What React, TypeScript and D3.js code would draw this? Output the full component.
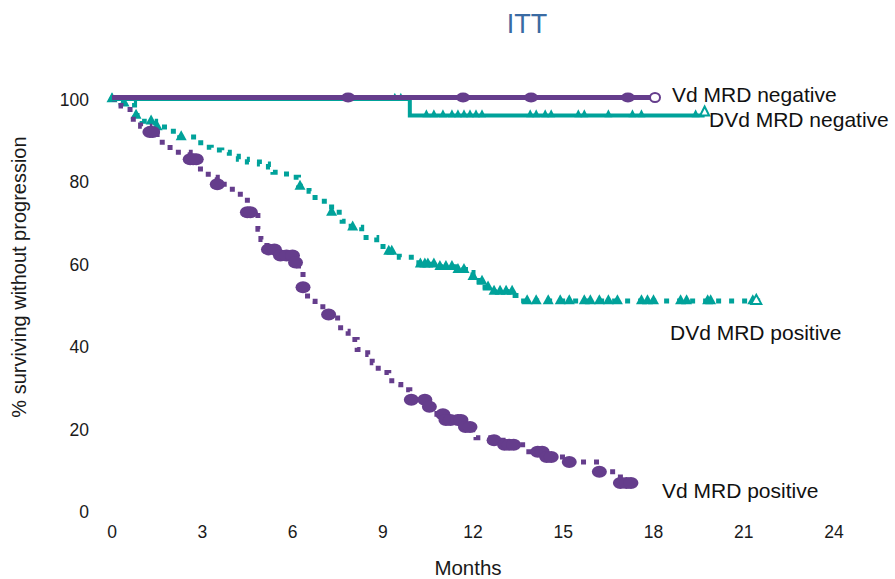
import React from "react";
import * as d3 from "d3";

const xTicks = [0, 3, 6, 9, 12, 15, 18, 21, 24];
const yTicks = [0, 20, 40, 60, 80, 100];

// Vd MRD negative
const vdNegT = [0, 18.05];
const vdNegS = [100, 100];
const vdNegCens = [7.85, 11.67, 13.93, 17.15];

// DVd MRD negative
const dvdNegT = [0, 9.9, 19.7];
const dvdNegS = [100, 96, 96];
const dvdNegCens = [0, 9.4, 9.6, 10.45, 10.7, 11.0, 11.3, 11.5, 11.7, 11.9, 12.1, 12.3, 13.9, 14.1, 14.4, 14.6, 15.5, 15.7, 16.5, 17.3, 17.6, 19.4];

// DVd MRD positive
const dvdPosT = [0, 0.3, 0.75, 1.0, 1.45, 1.85, 2.25, 2.95, 3.3, 3.65, 3.9, 4.2, 4.5, 4.9, 5.2, 5.35, 5.7, 6.0, 6.2, 6.55, 6.75, 7.3, 7.65, 7.95, 8.3, 8.8, 9.2, 9.55, 10.2, 10.8, 11.4, 11.75, 12.0, 12.2, 12.4, 12.6, 13.4, 13.55, 21.55];
const dvdPosS = [100, 99, 96, 94.6, 93.2, 92.2, 90.8, 88.3, 87.6, 87.1, 86.1, 85.4, 84.7, 84.2, 83.5, 82.2, 81.8, 81, 78.8, 77.6, 75.2, 72.5, 70.3, 68.9, 66.4, 64.2, 63, 61.6, 59.9, 59.3, 58.6, 57.9, 56.9, 55.7, 54.3, 53.3, 52.3, 51, 51];
const dvdPosCens = [0, 0.4, 0.8, 1.3, 1.5, 2.3, 6.25, 7.3, 8.0, 9.2, 9.3, 10.25, 10.4, 10.5, 10.7, 10.9, 11.1, 11.3, 11.5, 11.7, 12.0, 12.3, 12.5, 12.7, 12.9, 13.1, 13.3, 13.8, 14.1, 14.5, 14.9, 15.2, 15.7, 15.9, 16.2, 16.5, 16.8, 17.6, 17.8, 18.0, 18.9, 19.1, 19.8, 19.9, 21.3];

// Vd MRD positive
const vdPosT = [0, 0.3, 0.6, 0.95, 1.26, 1.5, 1.93, 2.6, 2.83, 3.2, 3.5, 4.0, 4.5, 4.85, 4.95, 5.15, 5.6, 6.1, 6.2, 6.35, 6.5, 6.75, 7.2, 7.5, 7.6, 7.85, 8.15, 8.5, 8.65, 8.85, 9.2, 9.3, 9.6, 9.9, 10.45, 10.8, 11.1, 11.65, 12.0, 12.1, 12.65, 13.0, 13.65, 14.4, 15.2, 16.2, 16.9, 17.4];
const vdPosS = [100, 98.3, 95.1, 93.4, 92, 89.5, 87.1, 85.4, 83, 81, 79.3, 76.9, 72.5, 68.4, 65.9, 63.5, 62, 60.3, 57.4, 54.3, 50.9, 49.6, 47.7, 45.7, 43.6, 41.6, 39.2, 38, 36, 33.6, 32.4, 30.7, 29.4, 27, 25.3, 23.5, 22.1, 20.4, 19.7, 17.8, 17.2, 16.1, 14.4, 13.1, 11.9, 9.5, 6.8, 6.8];
const vdPosCens = [1.26, 1.35, 2.6, 2.7, 2.8, 3.5, 4.5, 4.6, 5.2, 5.4, 5.6, 5.8, 6.0, 6.1, 6.35, 7.2, 9.95, 10.4, 10.55, 11.0, 11.1, 11.25, 11.5, 11.6, 11.75, 11.9, 12.7, 13.05, 13.2, 13.35, 14.15, 14.3, 14.45, 14.6, 15.2, 16.2, 16.9, 17.1, 17.25];

const seriesLabels = ["Vd MRD negative", "DVd MRD negative", "DVd MRD positive", "Vd MRD positive"];

const PURPLE = "#653d8c";
const TEAL = "#00a29a";
const FONT = "'Liberation Sans', Arial, sans-serif";

const x = d3.scaleLinear().domain([0, 24]).range([112, 834]);
const y = d3.scaleLinear().domain([0, 100]).range([511, 99]);

function stepAt(ts: number[], ss: number[], t: number) {
  let v = ss[0];
  for (let i = 0; i < ts.length; i++) if (ts[i] <= t) v = ss[i];
  return v;
}

const line = d3
  .line<[number, number]>()
  .x((d) => x(d[0]))
  .y((d) => y(d[1]))
  .curve(d3.curveStepAfter);

function pts(ts: number[], ss: number[]): [number, number][] {
  return ts.map((t, i) => [t, ss[i]]);
}

function tri(cx: number, cy: number, w: number, h: number) {
  return `M${cx - w / 2},${cy + h / 3} L${cx + w / 2},${cy + h / 3} L${cx},${cy - (2 * h) / 3} Z`;
}

export default function App() {
  return (
    <svg width={895} height={579} style={{ display: "block", position: "absolute", left: 0, top: 0 }}>
      <rect width={895} height={579} fill="#fff" />
      <text x={527} y={33} textAnchor="middle" fontFamily={FONT} fontSize={27} fill="#3a6ba3">ITT</text>

      {yTicks.map((t) => (
        <text key={"y" + t} x={89} y={y(t) + 7} textAnchor="end" fontFamily={FONT} fontSize={17.5} fill="#1a1a1a">{t}</text>
      ))}
      {xTicks.map((t) => (
        <text key={"x" + t} x={x(t)} y={538} textAnchor="middle" fontFamily={FONT} fontSize={17.5} fill="#1a1a1a">{t}</text>
      ))}
      <text x={468} y={575} textAnchor="middle" fontFamily={FONT} fontSize={20.5} fill="#1a1a1a">Months</text>
      <text transform={`translate(26,277) rotate(-90)`} textAnchor="middle" fontFamily={FONT} fontSize={20} fill="#1a1a1a">% surviving without progression</text>

      {/* DVd MRD positive */}
      <path d={line(pts(dvdPosT, dvdPosS)) || ""} fill="none" stroke={TEAL} strokeWidth={5} strokeDasharray="5 8" />
      {dvdPosCens.map((t, i) => (
        <path key={"dp" + i} d={tri(x(t), y(stepAt(dvdPosT, dvdPosS, t)), 11, 10)} fill={TEAL} />
      ))}
      <path d={tri(x(dvdPosT[dvdPosT.length - 1]) - 4, y(dvdPosS[dvdPosS.length - 1]), 10, 9)} fill="#fff" stroke={TEAL} strokeWidth={2} />

      {/* Vd MRD positive */}
      <path d={line(pts(vdPosT, vdPosS)) || ""} fill="none" stroke={PURPLE} strokeWidth={5} strokeDasharray="5 8" />
      {vdPosCens.map((t, i) => (
        <ellipse key={"vp" + i} cx={x(t)} cy={y(stepAt(vdPosT, vdPosS, t))} rx={7.5} ry={6} fill={PURPLE} />
      ))}

      {/* DVd MRD negative */}
      <path d={line(pts(dvdNegT, dvdNegS)) || ""} fill="none" stroke={TEAL} strokeWidth={4} />
      {dvdNegCens.map((t, i) => (
        <path key={"dn" + i} d={tri(x(t), y(stepAt(dvdNegT, dvdNegS, t)) - 1, 8, 8)} fill={TEAL} />
      ))}
      <path d={tri(x(dvdNegT[dvdNegT.length - 1]), y(96) - 3, 9, 9)} fill="#fff" stroke={TEAL} strokeWidth={2} />

      {/* Vd MRD negative */}
      <path d={line(pts(vdNegT, vdNegS)) || ""} fill="none" stroke={PURPLE} strokeWidth={5} transform="translate(0,-1.5)" />
      {vdNegCens.map((t, i) => (
        <ellipse key={"vn" + i} cx={x(t)} cy={y(100) - 1.5} rx={7} ry={5} fill={PURPLE} />
      ))}
      <ellipse cx={x(vdNegT[1])} cy={y(100) - 1.5} rx={5} ry={4.5} fill="#fff" stroke={PURPLE} strokeWidth={2} />

      <text x={672} y={102} fontFamily={FONT} fontSize={21} fill="#111">{seriesLabels[0]}</text>
      <text x={709} y={127} fontFamily={FONT} fontSize={21} fill="#111">{seriesLabels[1]}</text>
      <text x={670} y={340} fontFamily={FONT} fontSize={21} fill="#111">{seriesLabels[2]}</text>
      <text x={662} y={498} fontFamily={FONT} fontSize={21} fill="#111">{seriesLabels[3]}</text>
    </svg>
  );
}
